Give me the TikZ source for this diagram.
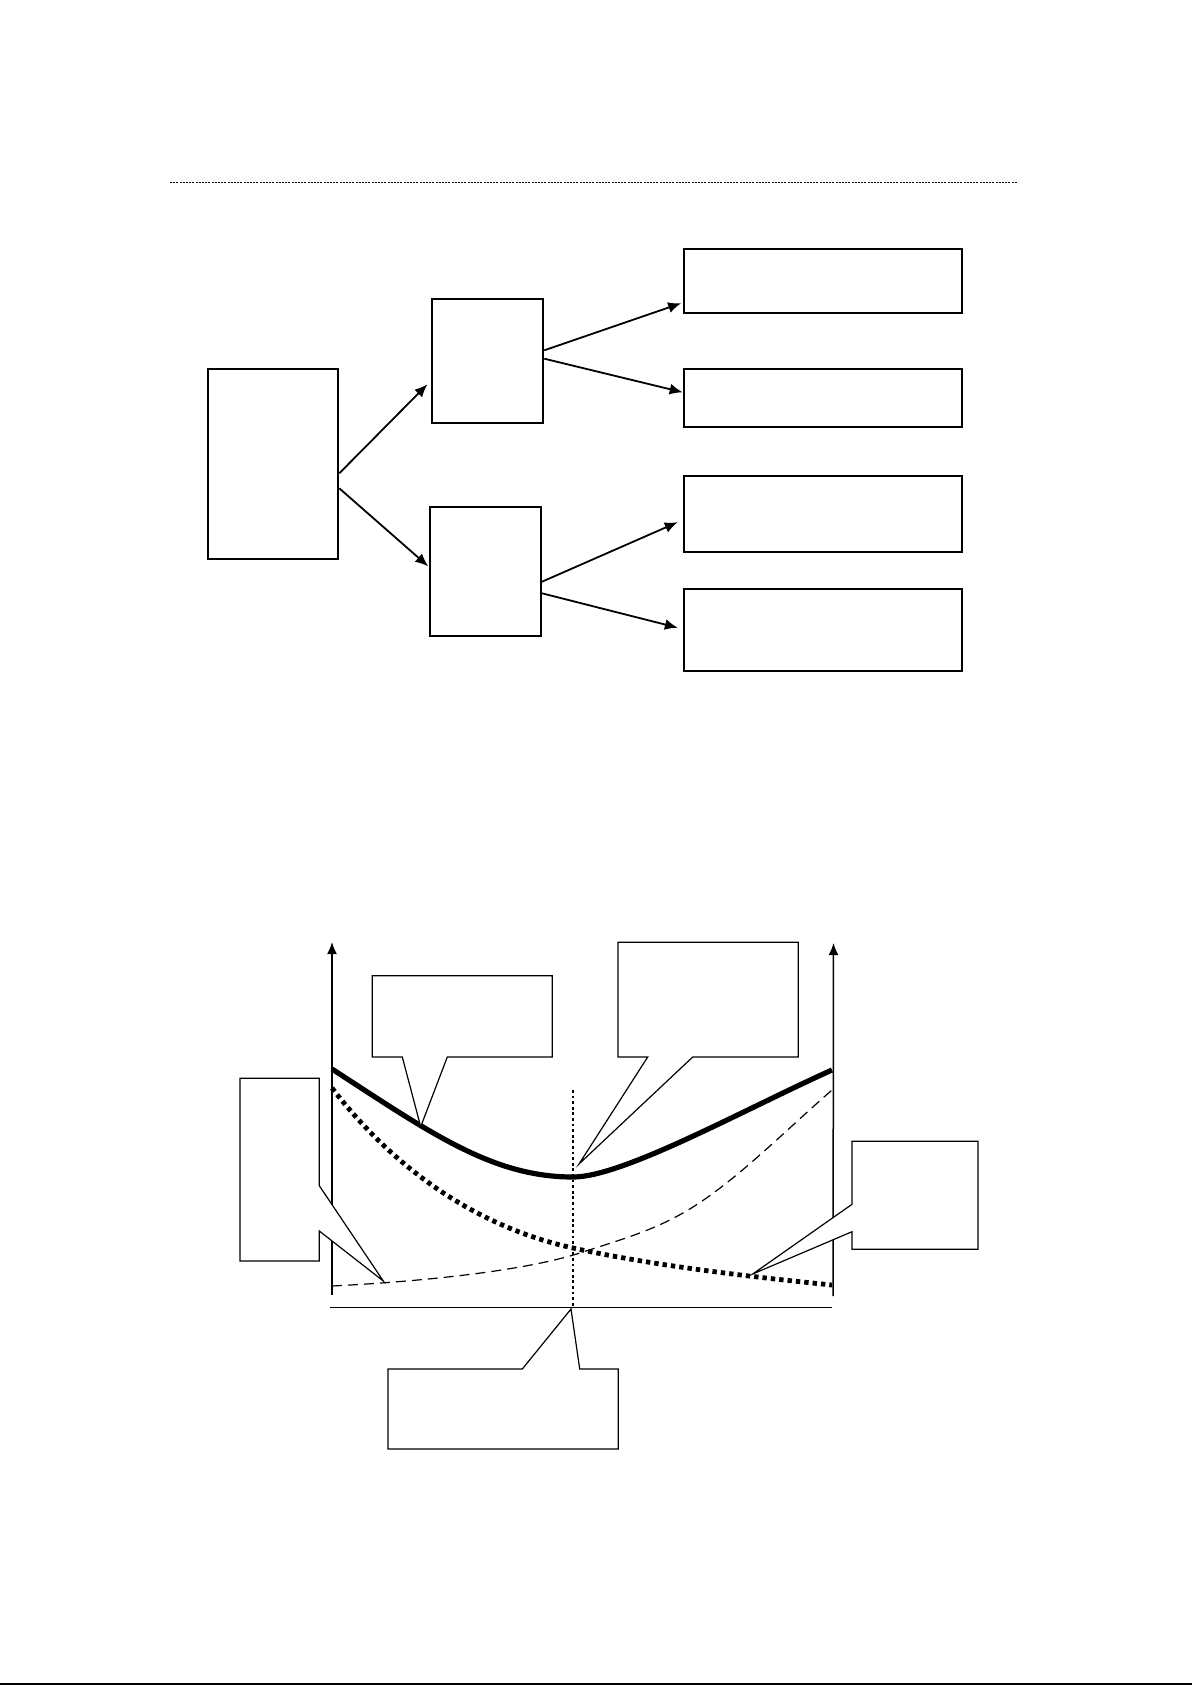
\documentclass[tikz,border=0pt]{standalone}
\usetikzlibrary{arrows.meta}
\begin{document}
\begin{tikzpicture}[x=0.5pt,y=-0.5pt,
  box/.style={draw, line width=1pt, inner sep=0pt, anchor=north west},
  arr/.style={line width=0.9pt, -{Latex[length=6.5pt,width=5.5pt]}},
  callout/.style={draw, fill=white, line width=0.6pt, line join=miter},
  axisarrow/.style={line width=0.75pt, -{Latex[length=6pt,width=5pt]}},
  thickcurve/.style={line width=2.6pt},
  dotcurve/.style={line width=2.4pt, dash pattern=on 2.2pt off 2pt},
  dashcurve/.style={line width=0.6pt, dash pattern=on 5pt off 3pt},
  vdots/.style={line width=1.4pt, dash pattern=on 1.4pt off 1.4pt},
]
\useasboundingbox (0,0) rectangle (1192,1685);

% top dotted rule
\coordinate (r1) at (170,182.5);
\coordinate (r2) at (1018,182.5);
\draw[line width=0.7pt, dash pattern=on 1pt off 0.6pt] (r1) -- (r2);

% boxes of the tree
\node[box, minimum width=65.3pt, minimum height=95pt]   (L)  at (206.7,367.7) {};
\node[box, minimum width=55.8pt, minimum height=62pt]   (M1) at (430.7,298) {};
\node[box, minimum width=55.65pt, minimum height=64.8pt] (M2) at (428.7,505.7) {};
\node[box, minimum width=139.15pt, minimum height=32pt]   (R1) at (682.7,248) {};
\node[box, minimum width=139.15pt, minimum height=29pt]   (R2) at (682.7,367.7) {};
\node[box, minimum width=139.15pt, minimum height=38.15pt] (R3) at (682.7,474.7) {};
\node[box, minimum width=139.15pt, minimum height=40.85pt] (R4) at (682.7,588.3) {};

% arrows
\draw[arr, shorten >=2.3pt] (L.east |- 0,473.3) -- (M1.west |- 0,381);
\draw[arr, shorten >=0.3pt] (L.east |- 0,488.3) -- (M2.west |- 0,566.7);
\draw[arr, shorten >=0.8pt] (M1.east |- 0,350.3) -- (R1.west |- 0,302.7);
\draw[arr] (M1.east |- 0,358.7) -- (R2.west |- 0,392.3);
\draw[arr, shorten >=2.7pt] (M2.east |- 0,581.7) -- (R3.west |- 0,520);
\draw[arr, shorten >=2.5pt] (M2.east |- 0,593.3) -- (R4.west |- 0,629);

% chart axes
\coordinate (O1) at (332,1295);
\coordinate (Y1) at (332,942);
\coordinate (O2) at (833,1296);
\coordinate (Y2) at (833.5,943);
\coordinate (X1) at (330,1307.5);
\coordinate (X2) at (832,1307.5);
\coordinate (V1) at (573,1090);
\coordinate (V2) at (573,1308);
\draw[axisarrow] (O1) -- (Y1);
\draw[axisarrow] (O2) -- (Y2);
\draw[line width=0.6pt] (X1) -- (X2);

% curves
\coordinate (dA) at (332,1286);
\coordinate (dB) at (583,1252);
\coordinate (dC) at (693,1207);
\coordinate (dD) at (832,1090);
\draw[dashcurve] (dA) .. controls (412,1282) and (523,1272) .. (dB)
  .. controls (620,1239.8) and (656,1230.3) .. (dC)
  .. controls (739,1178) and (786,1130) .. (dD);

\coordinate (pA) at (332,1088);
\coordinate (pB) at (573,1248);
\coordinate (pC) at (832,1285);
\draw[dotcurve] (pA) .. controls (392,1166) and (473,1226) .. (pB)
  .. controls (653,1265.6) and (752,1277) .. (pC);

\coordinate (tA) at (332,1069);
\coordinate (tB) at (573,1177);
\coordinate (tC) at (832,1070);
\draw[thickcurve] (tA) .. controls (432,1134) and (493,1177) .. (tB)
  .. controls (623,1177) and (742,1110.5) .. (tC);

\draw[vdots] (V1) -- (V2);

% callouts
\draw[callout] (372.3,975.7) -- (552.3,975.7) -- (552.3,1057) -- (447.3,1057) -- (420.7,1126.7) -- (402.3,1057) -- (372.3,1057) -- cycle;
\draw[callout] (618,942.3) -- (798.3,942.3) -- (798.3,1057) -- (692.7,1057) -- (579,1164) -- (647.7,1057) -- (618,1057) -- cycle;
\draw[callout] (240,1078.3) -- (319.3,1078.3) -- (319.3,1185.7) -- (383.3,1281) -- (319.3,1231) -- (319.3,1261) -- (240,1261) -- cycle;
\draw[callout] (852,1141.3) -- (978,1141.3) -- (978,1249.3) -- (852,1249.3) -- (852,1231.7) -- (752.7,1274) -- (852,1204.3) -- cycle;
\draw[callout] (388,1369) -- (522.3,1369) -- (571,1309) -- (579.7,1369) -- (618.3,1369) -- (618.3,1449) -- (388,1449) -- cycle;

% bottom rule
\coordinate (b1) at (0,1684);
\coordinate (b2) at (1192,1684);
\draw[line width=1pt] (b1) -- (b2);
\end{tikzpicture}
\end{document}
